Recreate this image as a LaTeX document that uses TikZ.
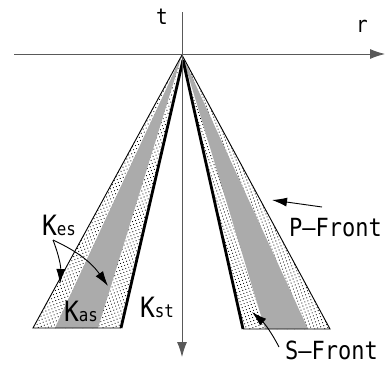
\documentclass[tikz,border=0pt]{standalone}
\usepackage{fontspec}
\setmainfont{DejaVu Sans Mono}[FakeStretch=0.88]
\usetikzlibrary{arrows.meta,patterns.meta}

\definecolor{bandgray}{gray}{0.67}
\definecolor{axisgray}{gray}{0.35}

\newcommand{\Ksub}[1]{K{\fontsize{18}{18}\selectfont #1}}

\begin{document}
\begin{tikzpicture}[x=1pt,y=-1pt]

    \tikzset{
      axis/.style={
        color=axisgray,
        line width=0.9pt,
        -{Latex[length=15pt,width=10pt]},
      },
      dotted band/.style={
        pattern={Dots[distance=3.2pt,radius=0.6pt,angle=20]},
        pattern color=black,
      },
      slow band/.style={
        fill=bandgray,
      },
      pfront/.style={
        line width=0.9pt,
      },
      sfront/.style={
        line width=2.8pt,
      },
      lbl/.style={
        inner sep=0pt,
        font=\fontsize{25}{25}\selectfont,
      },
      pointer/.style={
        line width=0.9pt,
        -{Latex[length=15pt,width=9pt]},
      },
    }

    \useasboundingbox (0,0) rectangle (385,372);

	% corner points of the two wedges
	\coordinate (apex) at (182,55);
	\coordinate (lo) at (33,328);
	\coordinate (lgl) at (55,328);
	\coordinate (lgr) at (98,328);
	\coordinate (li) at (121,328);
	\coordinate (ri) at (243,329);
	\coordinate (rgl) at (265,329);
	\coordinate (rgr) at (308,329);
	\coordinate (ro) at (330,329);

	% left wedge
	\fill[white] (apex)--(lo)--(li)--cycle;
	\fill[dotted band] (apex)--(lo)--(li)--cycle;
	\fill[slow band] (apex)--(lgl)--(lgr)--cycle;
	\draw[pfront] (apex)--(lo)--(li);
	\draw[sfront] (183,60)--(li);

	% right wedge
	\fill[white] (apex)--(ri)--(ro)--cycle;
	\fill[dotted band] (apex)--(ri)--(ro)--cycle;
	\fill[slow band] (apex)--(rgl)--(rgr)--cycle;
	\draw[pfront] (apex)--(ro)--(ri);
	\draw[sfront] (183,60)--(ri);

	% axes
	\coordinate (xa) at (14,54);
	\coordinate (xb) at (385,54);
	\coordinate (ya) at (182,12);
	\coordinate (yb) at (182,357);
	\draw[axis] (xa)--(xb);
	\draw[axis] (ya)--(yb);
	\node[lbl,font=\fontsize{22}{22}\selectfont] (t) at (162,17) {t};
	\node[lbl,font=\fontsize{22}{22}\selectfont] (r) at (362,26) {r};

	% labels
	\node[lbl,font=\fontsize{28}{28}\selectfont] (kes) at (59,225) {\Ksub{es}};
	\node[lbl,font=\fontsize{28}{28}\selectfont] (kas) at (81,311) {\Ksub{as}};
	\node[lbl,font=\fontsize{28}{28}\selectfont] (kst) at (157,307) {\Ksub{st}};
	\node[lbl,anchor=west] (pf) at (289,228) {P–Front};
	\node[lbl,anchor=west] (sf) at (285,350) {S–Front};

	% pointers
	\coordinate (kesfoot) at (53,240);
	\coordinate (kesl) at (60,284);
	\coordinate (kesr) at (108,286);
	\coordinate (pftail) at (322,207);
	\coordinate (pfhead) at (272,200);
	\coordinate (sftail) at (279,347);
	\coordinate (sfhead) at (252,312);
	\draw[pointer] (kesfoot) to[bend left=12] (kesl);
	\draw[pointer] (kesfoot) to[bend left=15] (kesr);
	\draw[pointer] (pftail)--(pfhead);
	\draw[pointer] (sftail) to[bend right=10] (sfhead);

\end{tikzpicture}
\end{document}
